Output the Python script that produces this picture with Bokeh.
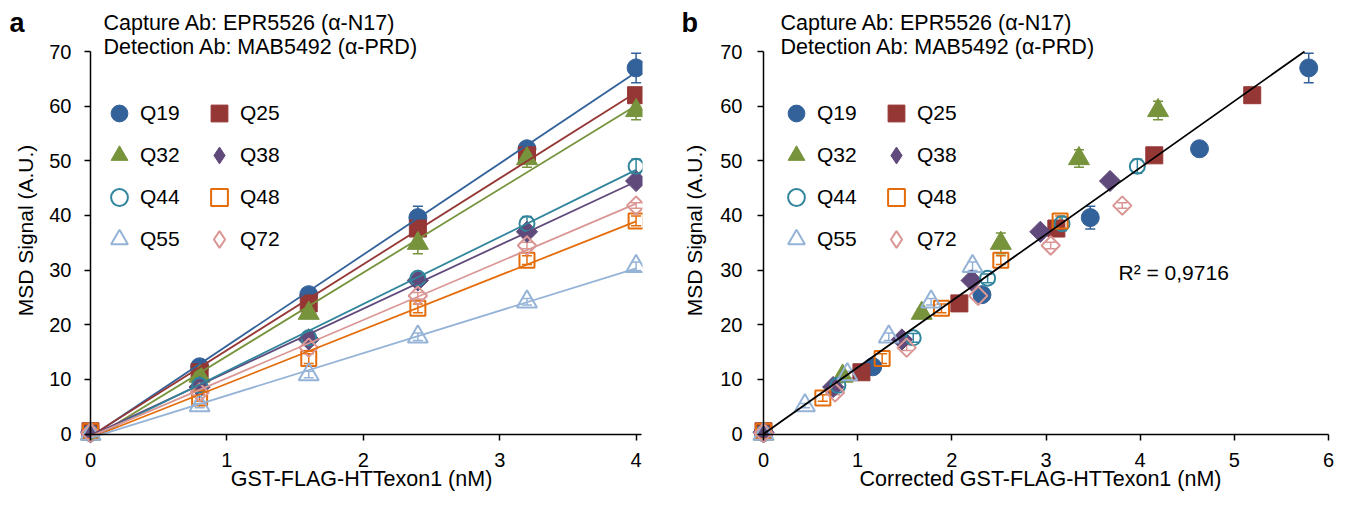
import numpy as np
from bokeh.plotting import figure
from bokeh.models import (Range1d, Legend, LegendItem, Label, Whisker, TeeHead,
                          ColumnDataSource, FixedTicker, LinearAxis)
from bokeh.layouts import row
from bokeh.embed import file_html
from bokeh.resources import INLINE

# ---------------- data ----------------
conc = [0, 0.8, 1.6, 2.4, 3.2, 4.0]          # GST-FLAG-HTTexon1 (nM)
series = ["Q19", "Q25", "Q32", "Q38", "Q44", "Q48", "Q55", "Q72"]

# MSD signal (A.U.)
q19 = [0.3, 12.3, 25.5, 39.6, 52.2, 67.0]
q25 = [0.5, 11.3, 23.9, 37.6, 51.0, 62.0]
q32 = [0.0, 10.6, 22.1, 34.9, 50.4, 59.2]
q38 = [0.3, 8.6, 17.3, 28.1, 37.0, 46.3]
q44 = [0.2, 8.9, 17.6, 28.5, 38.5, 49.0]
q48 = [0.5, 6.6, 13.8, 23.0, 31.8, 39.0]
q55 = [0.0, 5.2, 10.9, 17.8, 24.2, 30.7]
q72 = [0.2, 7.6, 15.8, 25.3, 34.5, 41.8]

# error bars (SD)
e19 = [0.2, 0.6, 0.8, 2.1, 0.7, 2.7]
e25 = [0.3, 0.5, 0.6, 1.0, 0.8, 0.6]
e32 = [0.1, 0.5, 0.8, 1.9, 1.6, 1.7]
e38 = [0.1, 0.4, 0.5, 0.6, 0.6, 0.5]
e44 = [0.1, 0.5, 0.8, 0.8, 1.3, 1.3]
e48 = [0.2, 0.6, 0.9, 0.8, 0.8, 0.9]
e55 = [0.1, 0.4, 0.6, 0.7, 0.6, 0.8]
e72 = [0.1, 0.4, 0.5, 0.6, 0.6, 0.5]

# corrected GST-FLAG-HTTexon1 (nM), panel b
cx19 = [0, 1.16, 2.32, 3.47, 4.63, 5.79]
cx25 = [0, 1.04, 2.08, 3.11, 4.15, 5.19]
cx32 = [0, 0.84, 1.68, 2.52, 3.35, 4.19]
cx38 = [0, 0.74, 1.47, 2.21, 2.94, 3.68]
cx44 = [0, 0.79, 1.59, 2.38, 3.17, 3.97]
cx48 = [0, 0.63, 1.26, 1.89, 2.52, 3.15]
cx55 = [0, 0.44, 0.89, 1.33, 1.78, 2.22]
cx72 = [0, 0.76, 1.52, 2.28, 3.05, 3.81]

yticks = [0, 10, 20, 30, 40, 50, 60, 70]
xticks_a = [0, 1, 2, 3, 4]
xticks_b = [0, 1, 2, 3, 4, 5, 6]

r2_text = "R² = 0,9716"
xlabel_a = "GST-FLAG-HTTexon1 (nM)"
xlabel_b = "Corrected GST-FLAG-HTTexon1 (nM)"
ylabel = "MSD Signal (A.U.)"
title1 = "Capture Ab: EPR5526 (α-N17)"
title2 = "Detection Ab: MAB5492 (α-PRD)"

ys = [q19, q25, q32, q38, q44, q48, q55, q72]
errs = [e19, e25, e32, e38, e44, e48, e55, e72]
cxs = [cx19, cx25, cx32, cx38, cx44, cx48, cx55, cx72]

# ---------------- styles ----------------
FONT = "Liberation Sans"
FS = "20px"
colors = ["#33629A", "#953735", "#77933C", "#604A7B",
          "#31859C", "#E46C0A", "#95B3D7", "#D99694"]
styles = [
    dict(marker="circle", size=18, filled=True, angle=0, leg="circle"),
    dict(marker="square", size=17, filled=True, angle=0, leg="square"),
    dict(marker="triangle", size=21, filled=True, angle=0, leg="triangle"),
    dict(marker="square", size=15, filled=True, angle=np.pi / 4, leg="diamond"),
    dict(marker="circle", size=15, filled=False, angle=0, leg="circle"),
    dict(marker="square", size=15, filled=False, angle=0, leg="square"),
    dict(marker="triangle", size=20, filled=False, angle=0, leg="triangle"),
    dict(marker="square", size=13, filled=False, angle=np.pi / 4, leg="diamond"),
]

PXY = 382.5 / 70.0          # px per y unit
Y0 = -11.5 / PXY            # frame bottom 11.5 px below y=0
FRAME_H = 440
Y1 = Y0 + FRAME_H / PXY
FIG_H = 497
TOP = 5


def make_fig(width, bl, br, xr, xbound, xticks, lab_standoff):
    p = figure(width=width, height=FIG_H, x_range=Range1d(*xr), y_range=Range1d(Y0, Y1),
               output_backend="svg", toolbar_location=None,
               min_border_left=bl, min_border_right=br,
               min_border_top=TOP, min_border_bottom=FIG_H - TOP - FRAME_H)
    p.outline_line_color = None
    p.grid.visible = False
    p.background_fill_color = "white"
    p.border_fill_color = "white"
    # real axes at the frame edges: tick labels and x title
    xa = p.xaxis[0]
    ya = p.yaxis[0]
    xa.ticker = FixedTicker(ticks=xticks)
    ya.ticker = FixedTicker(ticks=yticks)
    for ax in (xa, ya):
        ax.axis_line_color = None
        ax.major_tick_line_color = None
        ax.minor_tick_line_color = None
        ax.major_tick_out = 0
        ax.major_tick_in = 0
        ax.major_label_text_font = FONT
        ax.major_label_text_font_size = FS
        ax.major_label_text_color = "black"
        ax.axis_label_text_font = FONT
        ax.axis_label_text_font_size = "21.5px"
        ax.axis_label_text_font_style = "normal"
        ax.axis_label_text_color = "black"
    xa.major_label_standoff = 7
    ya.major_label_standoff = lab_standoff
    xa.axis_label_standoff = -3
    # axis lines + ticks at data zero
    xline = LinearAxis(fixed_location=0, bounds=xbound, ticker=FixedTicker(ticks=xticks),
                       major_tick_in=6, major_tick_out=0, minor_tick_line_color=None,
                       major_label_overrides={t: "" for t in xticks},
                       major_label_text_color=None, major_label_standoff=0,
                       axis_line_width=1.5, axis_line_color="black",
                       major_tick_line_width=1.5, major_tick_line_color="black")
    p.add_layout(xline, "above")
    yline = LinearAxis(fixed_location=0, bounds=(0, 70), ticker=FixedTicker(ticks=yticks),
                       major_tick_in=6, major_tick_out=0, minor_tick_line_color=None,
                       major_label_overrides={t: "" for t in yticks},
                       major_label_text_color=None, major_label_standoff=0,
                       axis_line_width=1.5, axis_line_color="black",
                       major_tick_line_width=1.5, major_tick_line_color="black")
    p.add_layout(yline, "right")
    return p, xa, ya


def add_points(p, xs_list):
    leg_rends = []
    for i, name in enumerate(series):
        x = xs_list[i]
        y = ys[i]
        e = errs[i]
        c = colors[i]
        st = styles[i]
        src = ColumnDataSource(dict(x=x, upper=[a + b for a, b in zip(y, e)],
                                    lower=[a - b for a, b in zip(y, e)]))
        w = Whisker(base="x", upper="upper", lower="lower", source=src, dimension="height",
                    line_color=c, line_width=1.5, level="underlay",
                    upper_head=TeeHead(size=10, line_color=c, line_width=1.5),
                    lower_head=TeeHead(size=10, line_color=c, line_width=1.5))
        p.add_layout(w)
        fill = c if st["filled"] else None
        lw = 1 if st["filled"] else 2
        r = p.scatter(x, y, marker=st["marker"], size=st["size"], angle=st["angle"],
                      fill_color=fill, line_color=c, line_width=lw)
        if st["leg"] != st["marker"]:
            # legend swatch for the rotated-square (diamond) markers (not drawn in plot)
            r = p.scatter(x=[np.nan], y=[np.nan], marker=st["leg"], size=st["size"],
                          fill_color=fill, line_color=c, line_width=lw)
        leg_rends.append(r)
    return leg_rends


def add_legend(p, rends, x):
    items = [LegendItem(label=n, renderers=[r]) for n, r in zip(series, rends)]
    lg = Legend(items=items, location=(x, 185), orientation="horizontal", ncols=2,
                glyph_width=42, glyph_height=42, spacing=0, label_standoff=0,
                label_width=58, label_height=20, padding=0, margin=0,
                border_line_color=None, background_fill_alpha=0,
                label_text_font=FONT, label_text_font_size="21px",
                label_text_color="black", label_text_baseline="middle")
    p.add_layout(lg)


def text_label(x, y, text, **kw):
    opts = dict(text_font=FONT, text_font_size="21.5px", text_color="black",
                text_baseline="middle", text_align="left")
    opts.update(kw)
    return Label(x=x, y=y, text=text, **opts)


# ---------------- panel a ----------------
PXA = 136.4
xa0 = -10 / PXA
pa, axa, aya = make_fig(662, 80, 20, (xa0, xa0 + 562 / PXA), (0, 4.04), xticks_a, 9)
axa.axis_label = xlabel_a
ra = add_points(pa, [conc] * 8)
for i in range(8):
    k, b = np.polyfit(conc, ys[i], 1)
    xl = [min(conc), max(conc)]
    pa.line(xl, [k * v + b for v in xl], line_color=colors[i], line_width=1.8)
add_legend(pa, ra, 18)
pa.add_layout(text_label(13 / PXA, 411.5 / PXY, title1))
pa.add_layout(text_label(13 / PXA, 387.5 / PXY, title2))
pa.add_layout(text_label(-65 / PXA, 203.5 / PXY, ylabel, text_align="center",
                         angle=np.pi / 2, text_font_size="21px"), "left")
pa.add_layout(text_label(-81 / PXA, 411.5 / PXY, "a", text_font_style="bold",
                         text_font_size="27px"), "left")

# ---------------- panel b ----------------
PXB = 565 / 6.0
xb0 = -14 / PXB
pb, axb, ayb = make_fig(677, 87, 8, (xb0, xb0 + 582 / PXB), (0, 6), xticks_b, 7)
axb.axis_label = xlabel_b
rb = add_points(pb, cxs)
allx = np.concatenate([np.array(v, float) for v in cxs])
ally = np.concatenate([np.array(v, float) for v in ys])
slope = float(np.sum(allx * ally) / np.sum(allx * allx))
x_end = min(float(allx.max()), 70.0 / slope)
pb.line([0, x_end], [0, slope * x_end], line_color="black", line_width=1.8)
add_legend(pb, rb, 26)
pb.add_layout(text_label(17 / PXB, 411.5 / PXY, title1))
pb.add_layout(text_label(17 / PXB, 387.5 / PXY, title2))
pb.add_layout(text_label(355 / PXB, 161.5 / PXY, r2_text, text_font_size="21px"))
pb.add_layout(text_label(-69 / PXB, 203.5 / PXY, ylabel, text_align="center",
                         angle=np.pi / 2, text_font_size="21px"), "left")
pb.add_layout(text_label(-82 / PXB, 411.5 / PXY, "b", text_font_style="bold",
                         text_font_size="27px"), "left")

layout = row(pa, pb)
open("out.html", "w").write(file_html(layout, INLINE))
